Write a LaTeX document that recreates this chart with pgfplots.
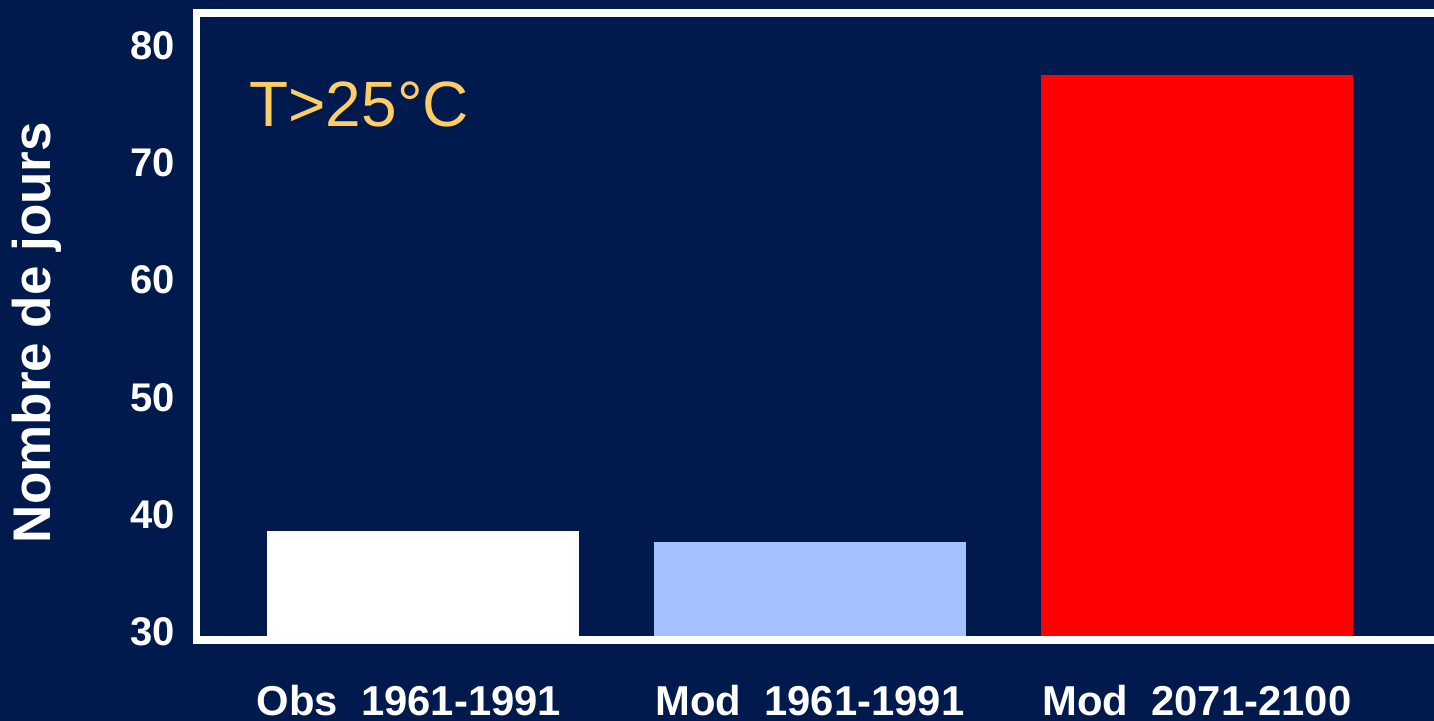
\documentclass[border=0pt]{standalone}
\usepackage{fontspec}
\setmainfont{Liberation Sans}
\usepackage{pgfplots}
\pgfplotsset{compat=1.18}
\definecolor{navy}{RGB}{0,26,77}
\definecolor{periwinkle}{RGB}{164,194,255}
\definecolor{labelgold}{RGB}{255,204,102}

\begin{document}
\begin{tikzpicture}[x=1pt,y=1pt]
\fill[navy] (0,0) rectangle (717,360.5);
\path[use as bounding box] (0,0) rectangle (717,360.5);
\begin{axis}[
  at={(98.25pt,40.5pt)}, anchor=south west,
  scale only axis, width=655pt, height=313.5pt,
  xmin=-0.585, xmax=2.8, ymin=29.3, ymax=82.8,
  clip mode=individual,
  axis on top,
  axis line style={white, line width=3.75pt},
  major tick length=0pt,
  xtick={0,1,2},
  xticklabels={{Obs\ \ 1961-1991\kern14pt},{Mod\ \ 1961-1991},{Mod\ \ 2071-2100}},
  ytick={30,40,50,60,70,80},
  /pgf/number format/assume math mode=true,
  yticklabel style={font=\fontsize{20}{24}\selectfont\bfseries, text=white,
    inner sep=0pt, anchor=east, xshift=-10.5pt},
  xticklabel style={font=\fontsize{20.9}{24}\selectfont\bfseries, text=white,
    inner sep=0pt, anchor=base, yshift=-38pt},
]
\addplot[ybar, bar shift=0pt, bar width=0.806, fill=white, draw=none]
  coordinates {(0,38.6)};
\addplot[ybar, bar shift=0pt, bar width=0.806, fill=periwinkle, draw=none]
  coordinates {(1,37.7)};
\addplot[ybar, bar shift=0pt, bar width=0.806, fill=red, draw=none]
  coordinates {(2,77.5)};
\node[anchor=base west, inner sep=0pt, text=labelgold,
  font=\fontsize{32}{36}\selectfont]
  at ([xshift=26.25pt,yshift=-57pt]rel axis cs:0,1) {T>25°C};
\node[rotate=90, inner sep=0pt, text=white,
  font=\fontsize{26.5}{30}\selectfont\bfseries]
  at ([xshift=-79.75pt,yshift=-3pt]rel axis cs:0,0.5) {Nombre de jours};
\end{axis}
\end{tikzpicture}
\end{document}
